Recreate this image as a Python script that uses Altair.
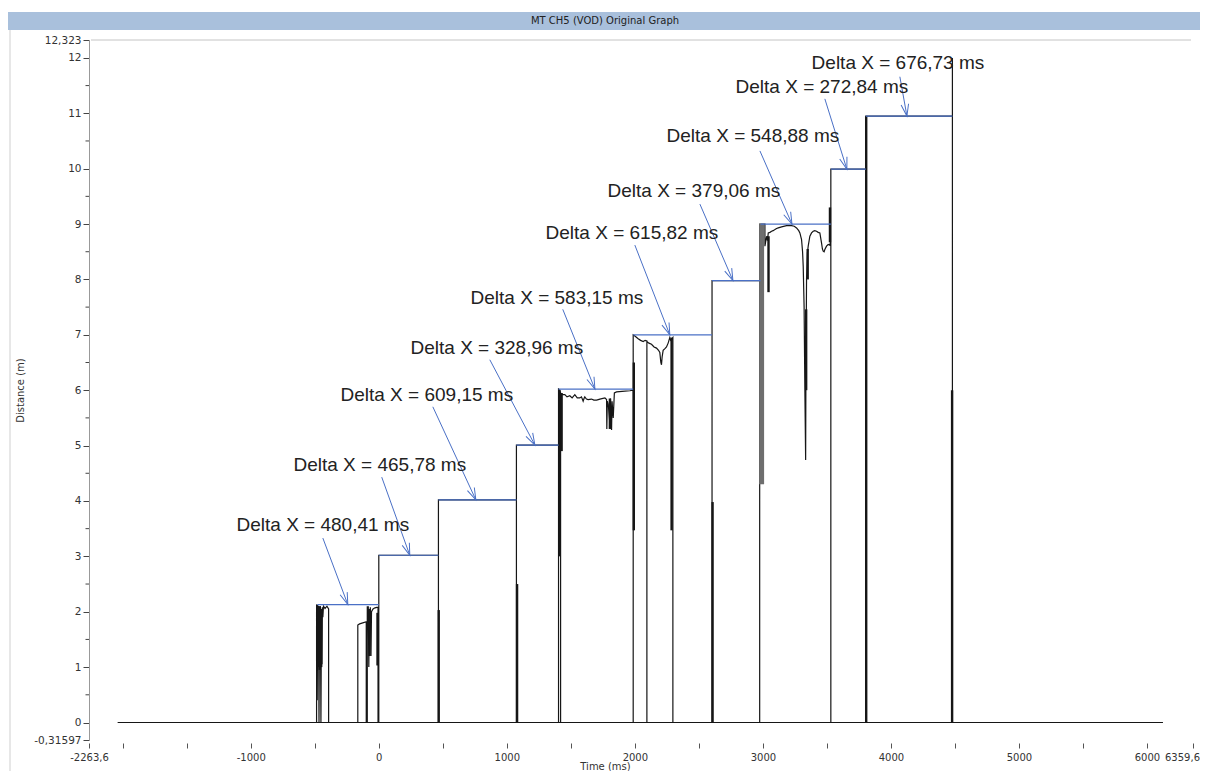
import math
import altair as alt
import pandas as pd

# ---------------- data ----------------
TITLE = "MT CH5 (VOD) Original Graph"
X_MIN, X_MAX = -2263.6, 6359.6
Y_MIN, Y_MAX = -0.31597, 12.323

x_ticks = [-2263.6, -2000, -1500, -1000, -500, 0, 500, 1000, 1500, 2000, 2500,
           3000, 3500, 4000, 4500, 5000, 5500, 6000, 6359.6]
y_ticks = [-0.31597, 0, 1, 2, 3, 4, 5, 6, 7, 8, 9, 10, 11, 12, 12.323]
y_minor = [0.5, 1.5, 2.5, 3.5, 4.5, 5.5, 6.5, 7.5, 8.5, 9.5, 10.5, 11.5]

# zero line of the record
baseline_t = [-2040, 6125]
baseline_d = [0, 0]

# measured distance trace (ms, m)
trace_t = [
    -486, -486, -481, -481, -477, -474, -471, -467, -463, -459, -456, -452, -448, -444, -441, -437,
    -432, -420, -405, -392, -392,
    -164, -164, -150, -125, -98, -98,
    -90, -90, -86, -82, -78, -74, -70, -66, -61, -57, -45, -30, -15, -6, -6,
    0, 0, 465.78, 465.78, 465.78, 1074.93, 1074.93, 1074.93, 1403.89, 1403.89, 1403.89,
    1414, 1420, 1420, 1420, 1453, 1470, 1492, 1510, 1531, 1550, 1570, 1583, 1596, 1603, 1609,
    1622, 1635, 1661, 1680, 1701, 1727, 1766, 1779, 1781, 1785, 1792, 1805, 1810, 1818, 1822,
    1831, 1840, 1857, 1900, 1961, 1987.04, 1987.04, 1987.04,
    2000, 2026, 2045, 2065, 2080, 2094, 2094, 2094, 2110, 2130, 2150, 2169, 2185, 2195, 2203,
    2208, 2213, 2221, 2235, 2247, 2260, 2273, 2280, 2297, 2297,
    2602.86, 2602.86, 2975, 2975, 2975, 2982, 3016, 3016, 3029, 3036, 3042, 3055, 3068, 3080,
    3094, 3107, 3120, 3146, 3185, 3224, 3245, 3263, 3280, 3289, 3302, 3310, 3315, 3322, 3328,
    3334, 3336, 3341, 3348, 3354, 3367, 3380, 3393, 3405, 3419, 3432, 3445, 3458, 3465, 3471,
    3478, 3484, 3497, 3510, 3522, 3530.8, 3530.8, 3530.8, 3803.64, 3803.64, 3803.64, 4480.37,
    4480.37, 4480.37,
]
trace_d = [
    0, 2.13, 2.1, 0.4, 2.12, 1.0, 2.1, 0, 2.06, 1.1, 2.1, 0, 2.02, 1.05, 2.08, 1.9,
    2.1, 2.06, 2.1, 2.05, 0,
    0, 1.76, 1.78, 1.8, 1.82, 0,
    0, 2.1, 1.9, 2.1, 1.0, 2.05, 1.85, 2.08, 1.2, 2.0, 2.05, 2.07, 2.08, 2.08, 0,
    0, 3.02, 3.02, 0, 4.02, 4.02, 0, 5.01, 5.01, 0, 6.02,
    6.0, 5.95, 0, 5.92, 5.92, 5.88, 5.9, 5.86, 5.92, 5.86, 5.86, 5.88, 5.8, 5.85, 5.88,
    5.84, 5.83, 5.84, 5.82, 5.82, 5.84, 5.86, 5.83, 5.3, 5.8, 5.75, 5.4, 5.85, 5.28, 5.8,
    5.5, 5.95, 5.97, 5.98, 5.99, 6.0, 0, 7.0,
    6.98, 6.93, 6.9, 6.88, 6.9, 6.89, 0, 6.88, 6.85, 6.83, 6.78, 6.76, 6.72, 6.68, 6.5,
    6.46, 6.6, 6.72, 6.75, 6.78, 6.85, 6.95, 6.9, 6.95, 0,
    0, 7.98, 7.98, 0, 9.0, 9.0, 9.0, 8.6, 8.78, 8.7, 8.84, 8.85, 8.87, 8.88,
    8.9, 8.92, 8.93, 8.95, 8.97, 8.97, 8.96, 8.93, 8.88, 8.84, 8.72, 8.5, 8.24, 7.5, 6.0,
    4.74, 6.2, 8.0, 8.48, 8.6, 8.78, 8.84, 8.87, 8.88, 8.87, 8.85, 8.84, 8.66, 8.55, 8.51,
    8.5, 8.54, 8.6, 8.63, 8.62, 8.7, 0, 9.99, 9.99, 0, 10.95, 10.95,
    12.0, 0,
]

# dense (over-plotted) parts of the trace: time, low, high
dense_t = [-474, -462, -450, -72, -10, 468, 1080, 1410, 1428, 1805, 1992, 2287, 2607,
           3044, 3338, 3350, 3524, 3807, 4478]
dense_lo = [1.0, 0.95, 1.0, 1.2, 1.03, 0, 0, 3.0, 4.9, 5.3, 3.47, 3.47, 0,
            7.77, 6.0, 8.0, 8.67, 0, 0]
dense_hi = [2.1, 2.1, 2.05, 2.05, 1.98, 2.03, 2.5, 6.0, 5.95, 5.85, 6.5, 6.95, 3.98,
            8.78, 7.46, 8.55, 9.3, 10.95, 6.0]
wide_t = [2990]
wide_lo = [4.3]
wide_hi = [9.0]

# Delta X cursors
delta_start = [-480.41, 0, 465.78, 1074.93, 1403.89, 1987.04, 2602.86, 2981.92, 3530.80, 3803.64]
delta_end = [0, 465.78, 1074.93, 1403.89, 1987.04, 2602.86, 2981.92, 3530.80, 3803.64, 4480.37]
delta_level = [2.13, 3.02, 4.02, 5.01, 6.02, 7.0, 7.98, 9.0, 9.99, 10.95]
delta_label = ["Delta X = 480,41 ms", "Delta X = 465,78 ms", "Delta X = 609,15 ms",
               "Delta X = 328,96 ms", "Delta X = 583,15 ms", "Delta X = 615,82 ms",
               "Delta X = 379,06 ms", "Delta X = 548,88 ms", "Delta X = 272,84 ms",
               "Delta X = 676,73 ms"]
label_t = [-437, 8, 375, 922, 1391, 1977, 2461, 2922, 3461, 4055]
label_d = [3.57, 4.65, 5.92, 6.77, 7.67, 8.83, 9.59, 10.59, 11.48, 11.91]
tail_t = [-437, 23, 422, 867, 1437, 2000, 2508, 2977, 3484, 4070]
tail_d = [3.33, 4.43, 5.70, 6.55, 7.46, 8.62, 9.36, 10.32, 11.26, 11.66]
tip_t = [-242, 242, 758, 1219, 1688, 2273, 2766, 3227, 3656, 4125]

# ---------------- chart ----------------
W, H = 1104, 700
BLUE = "#4a70c6"
INK = "#161616"
LABEL_FONT = "DejaVu Sans"
TEXT_FONT = "Liberation Sans"

kx = W / (X_MAX - X_MIN)
ky = H / (Y_MAX - Y_MIN)

xs = alt.Scale(domain=[X_MIN, X_MAX], nice=False, zero=False)
ys = alt.Scale(domain=[Y_MIN, Y_MAX], nice=False, zero=False)

LAST = "datum.value > 6300"
x_axis = alt.Axis(
    values=x_ticks,
    labelExpr="((datum.value % 1000 == 0 && datum.value != -2000) || datum.value % 1 != 0) ? replace(toString(datum.value), '.', ',') : ''",
    labelAlign={"condition": {"test": LAST, "value": "right"}, "value": "center"},
    labelOffset={"condition": {"test": LAST, "value": 6.5}, "value": 0},
    domain=False, grid=False, tickSize=5, tickColor="#555", offset=3,
    labelPadding=4, labelOverlap=False, labelFlush=False,
    labelFont=LABEL_FONT, labelFontSize=10, labelColor="#333",
    title="Time (ms)", titleFont=LABEL_FONT, titleFontSize=10, titleFontWeight="normal",
    titleColor="#333", titleX=516, titleY=23, titleBaseline="middle", titleAlign="center",
)
y_axis = alt.Axis(
    values=y_ticks,
    labelExpr="replace(toString(datum.value), '.', ',')",
    grid=False, domainColor="#999", tickColor="#444", tickSize=6,
    labelPadding=2, labelOverlap=False, labelFlush=False,
    labelFont=LABEL_FONT, labelFontSize=10.5, labelColor="#333",
    title="Distance (m)", titleFont=LABEL_FONT, titleFontSize=10, titleFontWeight="normal",
    titleColor="#333", titleX=-69, titleY=350, titleAngle=270,
    titleAlign="center", titleBaseline="middle",
)

base_df = pd.DataFrame({"t": baseline_t, "d": baseline_d, "i": range(len(baseline_t))})
trace_df = pd.DataFrame({"t": trace_t, "d": trace_d, "i": range(len(trace_t))})
dense_df = pd.DataFrame({"t": dense_t, "lo": dense_lo, "hi": dense_hi})
wide_df = pd.DataFrame({"t": wide_t, "lo": wide_lo, "hi": wide_hi})
minor_df = pd.DataFrame({"m": y_minor})
delta_df = pd.DataFrame({
    "s": delta_start, "e": delta_end, "v": delta_level, "label": delta_label,
    "lt": label_t, "ld": label_d, "at": tail_t, "ad": tail_d, "pt": tip_t,
})
delta_df["ang"] = [
    (math.degrees(math.atan2(-(p - a) * kx, (ad - v) * ky)) + 360) % 360
    for p, a, ad, v in zip(tip_t, tail_t, tail_d, delta_level)
]

baseline = alt.Chart(base_df).mark_line(color=INK, strokeWidth=1.2).encode(
    x=alt.X("t:Q", scale=xs, axis=x_axis),
    y=alt.Y("d:Q", scale=ys, axis=y_axis),
    order="i:Q",
)
trace = alt.Chart(trace_df).mark_line(color=INK, strokeWidth=1.2).encode(
    x=alt.X("t:Q", scale=xs), y=alt.Y("d:Q", scale=ys), order="i:Q",
)
wide = alt.Chart(wide_df).mark_rule(color="#6e6e6e", strokeWidth=5).encode(
    x=alt.X("t:Q", scale=xs), y=alt.Y("lo:Q", scale=ys), y2="hi:Q",
)
dense = alt.Chart(dense_df).mark_rule(color=INK, strokeWidth=2.4).encode(
    x=alt.X("t:Q", scale=xs), y=alt.Y("lo:Q", scale=ys), y2="hi:Q",
)
minor = alt.Chart(minor_df).mark_rule(color="#444", strokeWidth=1).encode(
    x=alt.value(-3.5), x2=alt.value(0), y=alt.Y("m:Q", scale=ys),
)
cursors = alt.Chart(delta_df).mark_rule(color=BLUE, strokeWidth=1.2).encode(
    x=alt.X("s:Q", scale=xs), x2="e:Q", y=alt.Y("v:Q", scale=ys),
)
arrows = alt.Chart(delta_df).mark_rule(color=BLUE, strokeWidth=1).encode(
    x=alt.X("at:Q", scale=xs), x2="pt:Q", y=alt.Y("ad:Q", scale=ys), y2="v:Q",
)
heads = alt.Chart(delta_df).mark_point(
    shape="M-0.32,-1L0,0L0.32,-1", filled=False, color=BLUE, strokeWidth=1, size=560, opacity=1,
).encode(
    x=alt.X("pt:Q", scale=xs), y=alt.Y("v:Q", scale=ys), angle=alt.Angle("ang:Q", scale=None),
)
labels = alt.Chart(delta_df).mark_text(
    font=TEXT_FONT, fontSize=19, color="#222", align="center", baseline="middle",
).encode(
    x=alt.X("lt:Q", scale=xs), y=alt.Y("ld:Q", scale=ys), text="label:N",
)

one = pd.DataFrame({"k": [0]})
title_bar = alt.Chart(one).mark_rect(color="#a9c0dc").encode(
    x=alt.value(-84), x2=alt.value(1125), y=alt.value(-28), y2=alt.value(-10),
)
title_txt = alt.Chart(one).mark_text(
    text=TITLE, font=LABEL_FONT, fontSize=10, color="#222", align="center", baseline="middle",
).encode(x=alt.value(516), y=alt.value(-19))
top_line = alt.Chart(one).mark_rule(color="#c4c4c4", strokeWidth=1).encode(
    x=alt.value(2), x2=alt.value(1102), y=alt.value(0),
)
left_line = alt.Chart(one).mark_rule(color="#cfcfcf", strokeWidth=1).encode(
    x=alt.value(-79), y=alt.value(-10), y2=alt.value(740),
)

chart = alt.layer(
    title_bar, title_txt, left_line, top_line,
    baseline, trace, wide, dense, minor, cursors, arrows, heads, labels,
).properties(
    width=W, height=H,
    autosize=alt.AutoSizeParams(type="none"),
    padding={"left": 81, "top": 32, "right": 7, "bottom": 31},
    background="white",
).configure_view(stroke=None)

chart.save("out.html", embed_options={"renderer": "svg", "actions": False})
